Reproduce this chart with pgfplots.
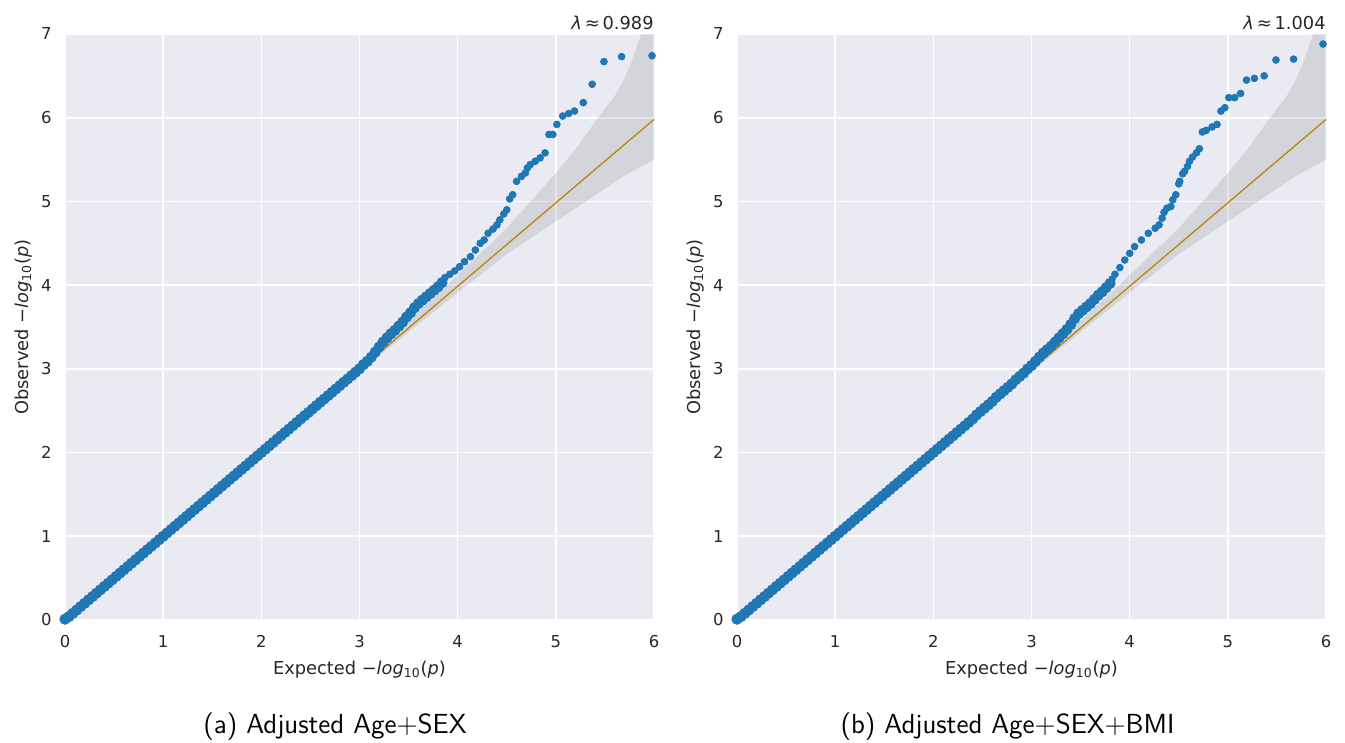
\documentclass[border=0pt]{standalone}
\usepackage{fontspec}
\setmainfont{DejaVu Sans}
\usepackage{pgfplots}
\pgfplotsset{compat=1.18}
\definecolor{bgc}{HTML}{EAEAF2}
\definecolor{txt}{HTML}{262626}
\definecolor{pblue}{HTML}{1F77B4}
\definecolor{gold}{HTML}{B8860B}
\pgfplotsset{
  qq/.style={
    scale only axis, width=294.5pt, height=293pt,
    xmin=0, xmax=6, ymin=0, ymax=7,
    xtick={0,...,6}, ytick={0,...,7},
    axis background/.style={fill=bgc},
    axis line style={draw=none},
    major tick length=0pt,
    grid=major, major grid style={white, line width=0.8pt},
    clip=false,
    /pgf/number format/assume math mode=true,
    tick label style={font=\fontsize{8.2}{10}\selectfont, text=txt, inner sep=0pt},
    xticklabel style={anchor=north, yshift=-7.5pt},
    yticklabel style={anchor=east, xshift=-6.5pt},
    label style={font=\fontsize{8.9}{11}\selectfont, text=txt, inner sep=0pt},
    xlabel style={at={(axis description cs:0.5,0)}, anchor=base, yshift=-27pt},
    ylabel style={at={(axis description cs:0,0.5)}, anchor=base, yshift=18.5pt},
    xlabel={Expected −\textit{log}\textsubscript{10}(\textit{p})},
    ylabel={Observed −\textit{log}\textsubscript{10}(\textit{p})},
  },
  dots/.style={color=pblue, only marks, mark=*, mark size=#1, mark options={draw=none, fill=pblue}},
  band/.style={fill=gray, fill opacity=0.2, draw=none},
  refl/.style={gold, line width=0.65pt},
}
\begin{document}
\begin{tikzpicture}
\path[use as bounding box] (0,0) rectangle (672.5pt,-371.5pt);
% ---------------- panel (a)
\begin{axis}[qq, at={(32.5pt,-310pt)}, anchor=south west]
\addplot[band] coordinates {(0,0)(1,1.01)(2,2.02)(3,3.05)(3.5,3.57)(4,4.12)(4.5,4.68)(5,5.34)(5.2,5.62)(5.41,5.97)(5.6,6.26)(5.69,6.44)(5.78,6.7)(5.87,7.0)(6,7.0)(6,5.50)(5.87,5.42)(5.69,5.30)(5.41,5.08)(5,4.76)(4.5,4.37)(4,3.91)(3.5,3.44)(3,2.96)(2,1.98)(1,0.99)(0,0)};
\addplot[dots=2.6pt] coordinates {(0,0.01)(0.04,0.04)(0.08,0.08)(0.12,0.12)(0.16,0.16)(0.2,0.2)(0.24,0.24)(0.28,0.28)(0.32,0.32)(0.36,0.36)(0.4,0.4)(0.44,0.44)(0.48,0.48)(0.52,0.52)(0.56,0.56)(0.6,0.6)(0.64,0.64)(0.68,0.68)(0.72,0.72)(0.76,0.76)(0.8,0.8)(0.84,0.84)(0.88,0.88)(0.92,0.92)(0.96,0.96)(1,1)(1.04,1.04)(1.08,1.08)(1.12,1.12)(1.16,1.16)(1.2,1.2)(1.24,1.24)(1.28,1.28)(1.32,1.32)(1.36,1.36)(1.4,1.4)(1.44,1.44)(1.48,1.48)(1.52,1.52)(1.56,1.56)(1.6,1.6)(1.64,1.64)(1.68,1.68)(1.72,1.72)(1.76,1.76)(1.8,1.8)(1.84,1.84)(1.88,1.88)(1.92,1.92)(1.96,1.96)(2,2)(2.04,2.04)(2.08,2.08)(2.12,2.12)(2.16,2.16)(2.2,2.2)(2.24,2.24)(2.28,2.28)(2.32,2.32)(2.36,2.36)(2.4,2.4)(2.44,2.44)(2.48,2.48)(2.52,2.52)(2.56,2.56)(2.6,2.6)(2.64,2.64)(2.68,2.68)(2.72,2.72)(2.76,2.76)(2.8,2.8)(2.84,2.84)(2.88,2.88)(2.92,2.92)(2.96,2.96)(3,3)(3.04,3.05)(3.08,3.09)(3.12,3.14)(3.16,3.2)(3.2,3.26)(3.24,3.32)(3.28,3.37)(3.32,3.42)(3.36,3.46)(3.4,3.51)(3.44,3.56)(3.48,3.62)(3.52,3.67)(3.56,3.73)(3.6,3.78)(3.64,3.82)(3.68,3.86)(3.72,3.9)(3.76,3.94)(3.8,3.98)(3.84,4.03)};
\addplot[dots=1.7pt] coordinates {(3.87,4.09)(3.92,4.13)(3.97,4.17)(4.02,4.22)(4.07,4.28)(4.13,4.34)(4.18,4.42)(4.23,4.5)(4.27,4.54)(4.31,4.62)(4.36,4.67)(4.4,4.72)(4.43,4.78)(4.47,4.85)(4.5,4.9)(4.53,5.03)(4.56,5.08)(4.6,5.24)(4.65,5.3)(4.69,5.34)(4.71,5.4)(4.74,5.44)(4.79,5.48)(4.84,5.52)(4.89,5.58)(4.93,5.8)(4.97,5.8)(5.01,5.92)(5.07,6.02)(5.13,6.05)(5.19,6.08)(5.28,6.18)(5.37,6.4)(5.49,6.67)(5.67,6.73)(5.98,6.74)};
\addplot[refl] coordinates {(0,0)(6,5.98)};
\node[anchor=base east, inner sep=0pt, text=txt, font=\fontsize{8.9}{11}\selectfont] at (rel axis cs:1,1) [yshift=2.5pt] {\textit{λ}\,≈\,0.989};
\end{axis}
% ---------------- panel (b)
\begin{axis}[qq, at={(368.5pt,-310pt)}, anchor=south west]
\addplot[band] coordinates {(0,0)(1,1.01)(2,2.02)(3,3.05)(3.5,3.57)(4,4.12)(4.5,4.68)(5,5.34)(5.2,5.62)(5.41,5.97)(5.6,6.26)(5.69,6.44)(5.78,6.7)(5.87,7.0)(6,7.0)(6,5.50)(5.87,5.42)(5.69,5.30)(5.41,5.08)(5,4.76)(4.5,4.37)(4,3.91)(3.5,3.44)(3,2.96)(2,1.98)(1,0.99)(0,0)};
\addplot[dots=2.6pt] coordinates {(0,0.01)(0.04,0.04)(0.08,0.08)(0.12,0.12)(0.16,0.16)(0.2,0.2)(0.24,0.24)(0.28,0.28)(0.32,0.32)(0.36,0.36)(0.4,0.4)(0.44,0.44)(0.48,0.48)(0.52,0.52)(0.56,0.56)(0.6,0.6)(0.64,0.64)(0.68,0.68)(0.72,0.72)(0.76,0.76)(0.8,0.8)(0.84,0.84)(0.88,0.88)(0.92,0.92)(0.96,0.96)(1,1)(1.04,1.04)(1.08,1.08)(1.12,1.12)(1.16,1.16)(1.2,1.2)(1.24,1.24)(1.28,1.28)(1.32,1.32)(1.36,1.36)(1.4,1.4)(1.44,1.44)(1.48,1.48)(1.52,1.52)(1.56,1.56)(1.6,1.6)(1.64,1.64)(1.68,1.68)(1.72,1.72)(1.76,1.76)(1.8,1.8)(1.84,1.84)(1.88,1.88)(1.92,1.92)(1.96,1.96)(2,2)(2.04,2.04)(2.08,2.08)(2.12,2.12)(2.16,2.16)(2.2,2.2)(2.24,2.24)(2.28,2.28)(2.32,2.32)(2.36,2.36)(2.4,2.4)(2.44,2.45)(2.48,2.49)(2.52,2.53)(2.56,2.57)(2.6,2.61)(2.64,2.66)(2.68,2.7)(2.72,2.74)(2.76,2.78)(2.8,2.82)(2.84,2.87)(2.88,2.91)(2.92,2.95)(2.96,3)(3,3.04)(3.04,3.09)(3.08,3.14)(3.12,3.19)(3.16,3.23)(3.2,3.27)(3.24,3.32)(3.28,3.37)(3.32,3.42)(3.36,3.47)(3.4,3.53)(3.44,3.6)(3.48,3.66)(3.52,3.7)(3.56,3.74)(3.6,3.78)(3.64,3.83)(3.68,3.88)(3.72,3.92)(3.76,3.97)(3.8,4.02)};
\addplot[dots=1.7pt] coordinates {(3.82,4.07)(3.85,4.13)(3.9,4.21)(3.95,4.3)(4,4.38)(4.05,4.46)(4.12,4.54)(4.19,4.62)(4.26,4.68)(4.3,4.72)(4.33,4.8)(4.35,4.87)(4.38,4.92)(4.42,4.94)(4.44,5.02)(4.47,5.08)(4.5,5.21)(4.51,5.24)(4.54,5.33)(4.56,5.36)(4.59,5.42)(4.61,5.48)(4.64,5.53)(4.68,5.58)(4.71,5.63)(4.74,5.83)(4.78,5.85)(4.84,5.89)(4.89,5.92)(4.93,6.08)(4.97,6.12)(5.01,6.24)(5.07,6.24)(5.13,6.29)(5.19,6.45)(5.27,6.47)(5.37,6.5)(5.49,6.69)(5.67,6.7)(5.97,6.88)};
\addplot[refl] coordinates {(0,0)(6,5.98)};
\node[anchor=base east, inner sep=0pt, text=txt, font=\fontsize{8.9}{11}\selectfont] at (rel axis cs:1,1) [yshift=2.5pt] {\textit{λ}\,≈\,1.004};
\end{axis}
\node[anchor=base, inner sep=0pt, font=\sffamily\fontsize{13.8}{16}\selectfont] at (167.5pt,-366.5pt) {(a) Adjusted Age+SEX};
\node[anchor=base, inner sep=0pt, font=\sffamily\fontsize{13.8}{16}\selectfont] at (503.75pt,-366.5pt) {(b) Adjusted Age+SEX+BMI};
\end{tikzpicture}
\end{document}
